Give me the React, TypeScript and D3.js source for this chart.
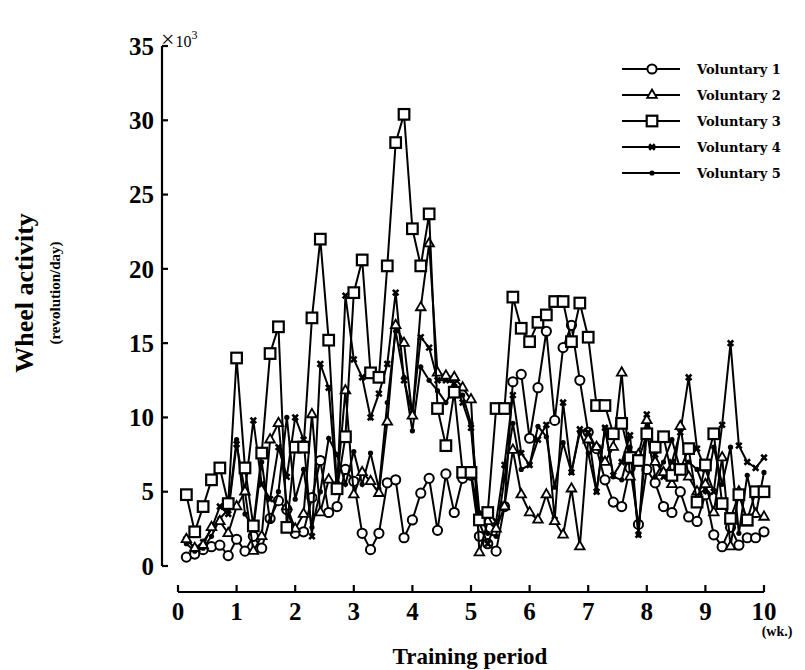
import React from "react";
import * as d3 from "d3";

const days: number[] = Array.from({ length: 70 }, (_, i) => i + 1);

const vol1: number[] = [0.6, 0.8, 1.1, 1.3, 1.4, 0.7, 1.8, 1.0, 2.0, 1.2, 3.2, 4.4, 3.8, 2.2, 2.3, 4.6, 7.1, 3.6, 4.0, 6.5, 5.7, 2.2, 1.1, 2.2, 5.6, 5.8, 1.9, 3.1, 4.9, 5.9, 2.4, 6.2, 3.6, 5.9, 6.1, 2.0, 1.5, 1.0, 4.0, 12.4, 12.9, 8.6, 12.0, 15.8, 9.8, 14.7, 16.2, 12.5, 9.0, 7.9, 5.8, 4.3, 4.0, 6.6, 2.8, 6.5, 5.6, 4.0, 3.6, 5.0, 3.3, 3.0, 4.8, 2.1, 1.3, 2.6, 1.4, 1.9, 1.9, 2.3];
const vol2: number[] = [1.8, 1.2, 1.4, 2.6, 3.0, 2.2, 4.0, 5.0, 1.0, 2.0, 8.5, 9.6, 4.0, 2.5, 3.5, 10.2, 3.6, 5.8, 5.5, 11.8, 4.8, 6.3, 5.7, 4.9, 9.7, 16.2, 15.0, 10.1, 17.4, 21.7, 13.0, 12.8, 12.7, 12.0, 11.2, 0.9, 3.0, 2.5, 4.0, 7.8, 4.8, 3.6, 3.1, 4.8, 3.0, 2.1, 5.2, 1.3, 8.5, 8.0, 7.0, 8.0, 13.0, 6.0, 7.5, 9.8, 7.0, 6.3, 5.5, 9.4, 6.0, 5.0, 5.5, 3.6, 7.3, 1.3, 5.0, 2.9, 3.5, 3.3];
const vol3: number[] = [4.8, 2.3, 4.0, 5.8, 6.6, 4.2, 14.0, 6.6, 2.7, 7.6, 14.3, 16.1, 2.6, 8.0, 8.0, 16.7, 22.0, 15.2, 5.2, 8.7, 18.4, 20.6, 13.0, 12.7, 20.2, 28.5, 30.4, 22.7, 20.2, 23.7, 10.6, 8.1, 11.7, 6.3, 6.3, 3.1, 3.6, 10.6, 10.6, 18.1, 16.0, 15.1, 16.4, 16.9, 17.8, 17.8, 15.1, 17.7, 15.4, 10.8, 10.8, 8.9, 9.6, 7.3, 7.1, 8.9, 8.0, 8.7, 6.1, 6.5, 7.9, 4.3, 6.8, 8.9, 4.2, 3.2, 4.8, 3.1, 5.0, 5.0];
const vol4: number[] = [1.8, 1.2, 1.6, 2.5, 4.0, 3.5, 8.2, 5.0, 9.8, 5.5, 4.5, 8.0, 6.0, 10.0, 8.5, 2.0, 13.6, 12.0, 5.0, 18.2, 13.9, 12.7, 10.0, 11.6, 13.6, 18.4, 12.5, 10.2, 15.4, 14.7, 12.5, 12.5, 12.3, 11.0, 9.3, 2.9, 1.5, 3.0, 6.8, 11.5, 7.6, 6.8, 8.5, 9.5, 3.1, 11.0, 6.3, 9.2, 9.0, 5.0, 9.3, 6.1, 7.0, 8.8, 2.1, 10.2, 7.5, 6.0, 7.0, 9.0, 12.7, 7.9, 6.5, 5.0, 9.5, 15.0, 8.1, 7.0, 6.6, 7.3];
const vol5: number[] = [1.5, 1.0, 1.2, 2.0, 3.2, 3.8, 8.5, 3.5, 2.5, 7.0, 3.0, 5.0, 10.0, 4.5, 6.5, 2.6, 5.0, 8.6, 7.5, 5.5, 7.7, 5.5, 7.6, 5.2, 11.0, 15.8, 12.7, 9.1, 13.4, 12.5, 11.8, 11.0, 12.0, 11.5, 9.6, 3.6, 2.2, 2.0, 5.9, 9.6, 6.5, 6.8, 9.4, 8.7, 5.3, 8.3, 6.3, 9.0, 7.6, 5.0, 9.3, 6.0, 5.8, 8.0, 2.1, 9.0, 6.0, 7.0, 8.5, 6.5, 7.0, 6.5, 5.0, 8.0, 5.5, 8.0, 2.2, 6.1, 3.4, 6.3];

const seriesNames: string[] = ["Voluntary 1", "Voluntary 2", "Voluntary 3", "Voluntary 4", "Voluntary 5"];
const seriesMarkers: string[] = ["circle", "triangle", "square", "times", "dot"];
const yTicks: number[] = [0, 5, 10, 15, 20, 25, 30, 35];
const xTicks: number[] = [0, 1, 2, 3, 4, 5, 6, 7, 8, 9, 10];

const FONT = "'Liberation Serif', 'Times New Roman', serif";

function Marker({ kind, x, y }: { kind: string; x: number; y: number }) {
  if (kind === "circle") return <circle cx={x} cy={y} r={4.6} fill="#fff" stroke="#000" strokeWidth={2} />;
  if (kind === "square") return <rect x={x - 5.3} y={y - 5.3} width={10.6} height={10.6} fill="#fff" stroke="#000" strokeWidth={2.2} />;
  if (kind === "triangle") {
    const p = d3.symbol().type(d3.symbolTriangle).size(40)();
    return <path d={p || ""} transform={`translate(${x},${y})`} fill="#fff" stroke="#000" strokeWidth={1.8} />;
  }
  if (kind === "times") {
    const p = d3.symbol().type(d3.symbolTimes).size(22)();
    return <path d={p || ""} transform={`translate(${x},${y})`} fill="none" stroke="#000" strokeWidth={2.6} />;
  }
  return <circle cx={x} cy={y} r={2.6} fill="#000" />;
}

export default function App() {
  const W = 805, H = 670;
  const axX = 162;
  const x = d3.scaleLinear().domain([0, 10]).range([178, 764]);
  const y = d3.scaleLinear().domain([0, 35]).range([566, 46]);
  const all = [vol1, vol2, vol3, vol4, vol5];
  const line = d3.line<number>().x((_, i) => x(days[i] / 7)).y((v) => y(v));
  const drawOrder = [0, 4, 3, 1, 2];
  const legY = [69, 95, 121, 147, 173];
  const axisY = 592;
  return (
    <svg width={W} height={H} style={{ position: "absolute", left: 0, top: 0, background: "#fff" }} fontFamily={FONT}>
      <rect width={W} height={H} fill="#fff" />
      {/* y axis */}
      <line x1={axX} x2={axX} y1={y(35)} y2={y(0)} stroke="#000" strokeWidth={2.2} />
      {yTicks.map((t) => (
        <g key={t}>
          <line x1={axX} x2={axX + 6} y1={y(t)} y2={y(t)} stroke="#000" strokeWidth={2.2} />
          <text x={axX - 8} y={y(t)} dy="0.35em" textAnchor="end" fontSize={25} fontWeight="bold">{t}</text>
        </g>
      ))}
      <text x={axX - 1} y={y(35) + 1} fontSize={24}>×<tspan fontSize={16} dx={1}>10</tspan><tspan dy={-8} fontSize={12}>3</tspan></text>
      {/* x axis */}
      <line x1={x(0)} x2={x(10)} y1={axisY} y2={axisY} stroke="#000" strokeWidth={2.2} />
      {xTicks.map((t) => (
        <g key={t}>
          <line x1={x(t)} x2={x(t)} y1={axisY} y2={axisY - 7} stroke="#000" strokeWidth={2.2} />
          <text x={x(t)} y={axisY + 28} textAnchor="middle" fontSize={25} fontWeight="bold">{t}</text>
        </g>
      ))}
      <text x={777} y={636} textAnchor="middle" fontSize={14} fontWeight="bold">(wk.)</text>
      <text x={470} y={664} textAnchor="middle" fontSize={23} fontWeight="bold">Training period</text>
      <text transform="translate(33,293) rotate(-90)" textAnchor="middle" fontSize={26} fontWeight="bold">Wheel activity</text>
      <text transform="translate(60,293) rotate(-90)" textAnchor="middle" fontSize={15} fontWeight="bold">(revolution/day)</text>
      {/* series */}
      {drawOrder.map((si) => (
        <g key={si}>
          <path d={line(all[si]) || ""} fill="none" stroke="#000" strokeWidth={2} />
          {all[si].map((v, i) => (
            <Marker key={i} kind={seriesMarkers[si]} x={x(days[i] / 7)} y={y(v)} />
          ))}
        </g>
      ))}
      {/* legend */}
      {seriesNames.map((n, i) => (
        <g key={n}>
          <line x1={622} x2={680} y1={legY[i]} y2={legY[i]} stroke="#000" strokeWidth={2.2} />
          <Marker kind={seriesMarkers[i]} x={652} y={legY[i]} />
          <text x={697} y={legY[i]} dy="0.35em" fontSize={13} fontWeight="bold" fontFamily="'DejaVu Serif', serif">{n}</text>
        </g>
      ))}
    </svg>
  );
}
